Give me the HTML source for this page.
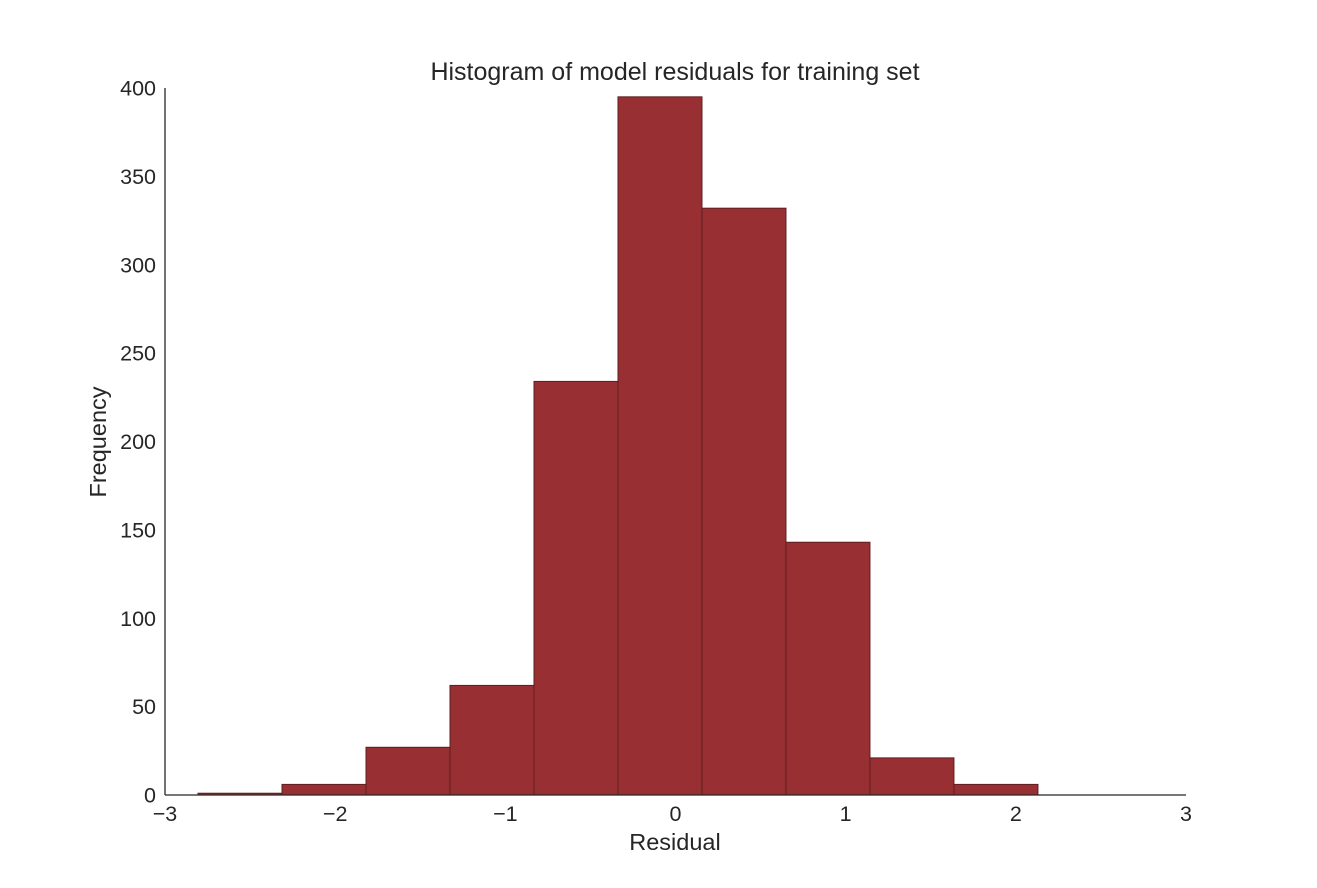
<!DOCTYPE html>
<html><head><meta charset="utf-8"><style>
html,body{margin:0;padding:0;background:#fff;}
svg text{font-family:"Liberation Sans",Arial,sans-serif;fill:#262626;}
</style></head><body>
<svg id="chart" width="1317" height="883" xmlns="http://www.w3.org/2000/svg">
<rect width="1317" height="883" fill="#fff"/>
<g id="bars"></g>
<g id="axes"></g>
<text x="675" y="80" font-size="25" text-anchor="middle">Histogram of model residuals for training set</text>
<text x="675" y="850" font-size="23.5" text-anchor="middle">Residual</text>
<text transform="translate(106,442) rotate(-90)" font-size="23.5" text-anchor="middle">Frequency</text>
</svg>
<script>
const binStart = -2.806;
const binWidth = 0.4936;
const counts = [1, 6, 27, 62, 234, 395, 332, 143, 21, 6];
const xTicks = [-3, -2, -1, 0, 1, 2, 3];
const yTicks = [0, 50, 100, 150, 200, 250, 300, 350, 400];

const X0 = 165, X1 = 1186, Y0 = 795, Y1 = 88;
const xMin = -3, xMax = 3, yMin = 0, yMax = 400;
function sx(v){ return X0 + (v - xMin) / (xMax - xMin) * (X1 - X0); }
function sy(v){ return Y0 - (v - yMin) / (yMax - yMin) * (Y0 - Y1); }
const NS = "http://www.w3.org/2000/svg";
const bars = document.getElementById('bars');
counts.forEach((c, i) => {
  const a = binStart + i * binWidth, b = a + binWidth;
  const r = document.createElementNS(NS, 'rect');
  r.setAttribute('x', sx(a));
  r.setAttribute('y', sy(c));
  r.setAttribute('width', sx(b) - sx(a));
  r.setAttribute('height', sy(0) - sy(c));
  r.setAttribute('fill', '#983033');
  r.setAttribute('stroke', '#5e1e20');
  r.setAttribute('stroke-width', '1');
  
  
  bars.appendChild(r);
});
const axes = document.getElementById('axes');
function line(x1,y1,x2,y2,name){
  const l = document.createElementNS(NS,'line');
  l.setAttribute('x1',x1);l.setAttribute('y1',y1);l.setAttribute('x2',x2);l.setAttribute('y2',y2);
  l.setAttribute('stroke','#262626');l.setAttribute('stroke-width','1.3');
  
  
  axes.appendChild(l);
}
line(X0, Y1, X0, Y0, 'y-axis-line');
line(X0, Y0, X1, Y0, 'x-axis-line');
xTicks.forEach(t => {
  const tx = document.createElementNS(NS,'text');
  tx.setAttribute('x', sx(t)); tx.setAttribute('y', Y0 + 26);
  tx.setAttribute('font-size','21.5'); tx.setAttribute('text-anchor','middle');
  tx.textContent = (t < 0 ? '\u2212' + Math.abs(t) : String(t));
  
  
  axes.appendChild(tx);
});
yTicks.forEach(t => {
  const tx = document.createElementNS(NS,'text');
  tx.setAttribute('x', X0 - 9); tx.setAttribute('y', sy(t) + 7.5);
  tx.setAttribute('font-size','21.5'); tx.setAttribute('text-anchor','end');
  tx.textContent = String(t);
  
  
  axes.appendChild(tx);
});
</script>
</body></html>
